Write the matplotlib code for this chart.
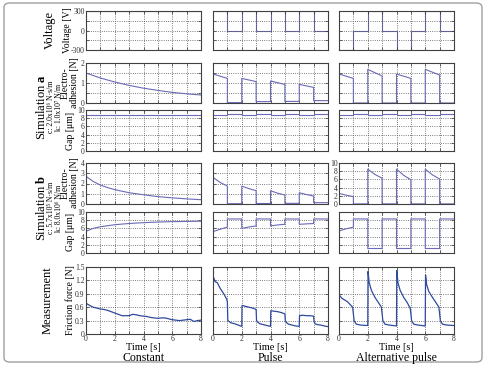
import numpy as np
import matplotlib.pyplot as plt
from matplotlib.patches import FancyBboxPatch

plt.rcParams['font.family'] = ['Liberation Serif', 'DejaVu Serif']
plt.rcParams['mathtext.fontset'] = 'custom'
plt.rcParams['mathtext.rm'] = 'Liberation Serif'
plt.rcParams['mathtext.it'] = 'Liberation Serif:italic'
plt.rcParams['mathtext.bf'] = 'Liberation Serif:bold'

# ---- data ----
columns = ['Constant', 'Pulse', 'Alternative pulse']

# voltage, one value per 1 s step
step_edges = [0, 1, 2, 3, 4, 5, 6, 7, 8]
volt_const = [300, 300, 300, 300, 300, 300, 300, 300]
volt_pulse = [300, 0, 300, 0, 300, 0, 300, 0]
volt_alt = [-300, 0, 300, 0, -300, 0, 300, 0]

# simulation a
ea_const_t = [0, 1, 2, 3, 4, 5, 6, 7, 8]
ea_const = [1.5, 1.25, 1.05, 0.88, 0.74, 0.63, 0.53, 0.46, 0.40]
pulse_t = [0, 1, 1, 2, 2, 3, 3, 4, 4, 5, 5, 6, 6, 7, 7, 8]
ea_pulse = [1.45, 1.23, 0.02, 0.02, 1.23, 1.07, 0.07, 0.07,
            1.10, 0.93, 0.08, 0.08, 0.93, 0.78, 0.12, 0.12]
ea_alt = [1.45, 1.23, 0.0, 0.0, 1.68, 1.35, 0.0, 0.0,
          1.45, 1.23, 0.0, 0.0, 1.68, 1.40, 0.0, 0.0]
gap_a_const_t = [0, 8]
gap_a_const = [8.9, 8.9]
gap_a_pulse = [8.85, 8.85, 8.95, 8.95, 8.85, 8.85, 8.95, 8.95,
               8.85, 8.85, 8.95, 8.95, 8.85, 8.85, 8.95, 8.95]
gap_a_alt = [8.85, 8.85, 8.95, 8.95, 8.7, 8.7, 8.95, 8.95,
             8.85, 8.85, 8.95, 8.95, 8.7, 8.7, 8.95, 8.95]

# simulation b
eb_const_t = [0, 0.5, 1, 1.5, 2, 3, 4, 5, 6, 7, 8]
eb_const = [2.7, 2.2, 1.85, 1.6, 1.4, 1.1, 0.9, 0.72, 0.6, 0.5, 0.42]
pulse_tf = [0, 0.5, 1, 1, 2, 2, 2.5, 3, 3, 4, 4, 4.5, 5, 5, 6, 6, 6.5, 7, 7, 8]
eb_pulse = [2.6, 2.1, 1.75, 0.03, 0.03, 1.75, 1.5, 1.3, 0.05, 0.05,
            1.3, 1.05, 0.88, 0.06, 0.06, 1.1, 0.92, 0.78, 0.13, 0.13]
eb_alt = [2.6, 2.15, 1.8, 0.02, 0.02, 8.5, 7.2, 6.3, 0.02, 0.02,
          8.5, 7.0, 5.9, 0.02, 0.02, 8.5, 7.1, 6.1, 0.02, 0.02]
gap_b_const_t = [0, 0.5, 1, 2, 3, 4, 5, 6, 7, 8]
gap_b_const = [5.3, 6.0, 6.4, 6.9, 7.2, 7.4, 7.55, 7.65, 7.7, 7.75]
gap_b_pulse = [5.2, 5.8, 6.3, 8.3, 8.3, 6.0, 6.35, 6.6, 8.3, 8.3,
               6.6, 6.85, 7.0, 8.3, 8.3, 7.0, 7.1, 7.2, 8.3, 8.3]
gap_b_alt = [5.4, 5.9, 6.3, 8.3, 8.3, 1.1, 1.1, 1.1, 8.3, 8.3,
             1.1, 1.1, 1.1, 8.3, 8.3, 1.1, 1.1, 1.1, 8.3, 8.3]

# measured friction force
fm_const_t = [0, 0.25, 0.5, 0.75, 1, 1.25, 1.5, 1.75, 2, 2.25, 2.5, 2.75, 3,
              3.25, 3.5, 3.75, 4, 4.25, 4.5, 4.75, 5, 5.25, 5.5, 5.75, 6,
              6.25, 6.5, 6.75, 7, 7.25, 7.5, 7.75, 8]
fm_const = [0.69, 0.64, 0.60, 0.58, 0.56, 0.55, 0.53, 0.50, 0.47, 0.44, 0.41,
            0.41, 0.41, 0.44, 0.43, 0.41, 0.40, 0.39, 0.37, 0.36, 0.35, 0.36,
            0.36, 0.34, 0.32, 0.31, 0.30, 0.31, 0.32, 0.33, 0.28, 0.30, 0.31]
fm_pulse_t = [0, 0.05, 0.15, 0.3, 0.5, 0.75, 0.95, 1.0, 1.03, 1.25, 1.5, 1.75,
              2.0, 2.02, 2.25, 2.5, 2.75, 3.0, 3.03, 3.1, 3.25, 3.5, 3.75,
              4.0, 4.02, 4.25, 4.5, 4.75, 5.0, 5.03, 5.1, 5.25, 5.5, 5.75,
              6.0, 6.02, 6.25, 6.5, 6.75, 7.0, 7.03, 7.1, 7.25, 7.5, 7.75, 8.0]
fm_pulse = [1.20, 1.26, 1.17, 1.15, 1.02, 0.90, 0.78, 0.72, 0.30, 0.25, 0.23,
            0.20, 0.17, 0.64, 0.62, 0.60, 0.58, 0.55, 0.30, 0.27, 0.23, 0.21,
            0.19, 0.17, 0.52, 0.51, 0.50, 0.48, 0.45, 0.30, 0.26, 0.22, 0.20,
            0.18, 0.17, 0.41, 0.42, 0.41, 0.41, 0.40, 0.28, 0.23, 0.21, 0.20,
            0.18, 0.165]
fm_alt_t = [0, 0.2, 0.4, 0.6, 0.8, 0.95, 1.0, 1.05, 1.2, 1.5, 2.0,
            2.02, 2.1, 2.25, 2.5, 2.75, 2.95, 3.0, 3.05, 3.2, 3.5, 4.0,
            4.02, 4.1, 4.25, 4.5, 4.75, 4.95, 5.0, 5.05, 5.2, 5.5, 6.0,
            6.02, 6.1, 6.25, 6.5, 6.75, 6.95, 7.0, 7.05, 7.2, 7.5, 8.0]
fm_alt = [0.88, 0.80, 0.76, 0.72, 0.65, 0.60, 0.45, 0.30, 0.22, 0.20, 0.19,
          1.40, 1.15, 0.98, 0.82, 0.70, 0.60, 0.45, 0.30, 0.22, 0.20, 0.18,
          1.42, 1.15, 0.98, 0.82, 0.70, 0.58, 0.45, 0.30, 0.22, 0.20, 0.18,
          1.32, 1.10, 0.95, 0.82, 0.70, 0.60, 0.45, 0.30, 0.22, 0.20, 0.19]

# ---- layout (pixels of a 486x365 figure) ----
W, H = 486, 365
col_x = [86, 213, 339]
col_w = 115
rows_px = [(11, 50), (63, 103), (110, 151), (163, 204), (212, 253), (267, 334)]

sim_color = '#6a6ab8'
meas_color = '#2f4a9e'

fig = plt.figure(figsize=(W / 100, H / 100), dpi=100)
fig.patches.append(FancyBboxPatch((4 / W, 3 / H), 478 / W, 359 / H,
                                  boxstyle='round,pad=0,rounding_size=0.012',
                                  transform=fig.transFigure, fill=False,
                                  edgecolor='#a0a0a0', lw=1.0))


def make_ax(r, c):
    top, bot = rows_px[r]
    ax = fig.add_axes([col_x[c] / W, 1 - bot / H, col_w / W, (bot - top) / H])
    ax.set_xlim(0, 8)
    ax.set_xticks(range(9))
    ax.set_xticklabels(['0', '', '2', '', '4', '', '6', '', '8'] if r == 5 else [])
    ax.grid(True, ls=':', color='#505050', lw=0.6)
    ax.tick_params(direction='in', length=2, width=0.5, labelsize=5.5, pad=1,
                   top=True, right=True, colors='#303030')
    for s in ax.spines.values():
        s.set_linewidth(0.8)
        s.set_color('#404040')
    return ax


def yaxis(ax, lim, ticks, labels, show):
    ax.set_ylim(*lim)
    ax.set_yticks(ticks)
    ax.set_yticklabels(labels if show else [])


volts = [volt_const, volt_pulse, volt_alt]
ea = [(ea_const_t, ea_const), (pulse_t, ea_pulse), (pulse_t, ea_alt)]
gap_a = [(gap_a_const_t, gap_a_const), (pulse_t, gap_a_pulse), (pulse_t, gap_a_alt)]
eb = [(eb_const_t, eb_const), (pulse_tf, eb_pulse), (pulse_tf, eb_alt)]
gap_b = [(gap_b_const_t, gap_b_const), (pulse_tf, gap_b_pulse), (pulse_tf, gap_b_alt)]
fm = [(fm_const_t, fm_const), (fm_pulse_t, fm_pulse), (fm_alt_t, fm_alt)]

for c in range(3):
    first = c == 0
    ax = make_ax(0, c)
    ax.stairs(volts[c], step_edges, color=sim_color, lw=0.8, baseline=None)
    yaxis(ax, (-300, 300), [-300, -150, 0, 150, 300], ['-300', '', '0', '', '300'], first)

    ax = make_ax(1, c)
    ax.plot(*ea[c], color=sim_color, lw=0.8)
    yaxis(ax, (0, 2), [0, 0.5, 1, 1.5, 2], ['0', '', '1', '', '2'], first)

    ax = make_ax(2, c)
    ax.plot(*gap_a[c], color=sim_color, lw=0.8)
    yaxis(ax, (0, 10), [0, 2, 4, 6, 8, 10], ['0', '2', '4', '6', '8', '10'], first)

    ax = make_ax(3, c)
    ax.plot(*eb[c], color=sim_color, lw=0.8)
    if c == 2:
        yaxis(ax, (0, 10), [0, 2, 4, 6, 8, 10], ['0', '2', '4', '6', '8', '10'], True)
    else:
        yaxis(ax, (0, 4), [0, 1, 2, 3, 4], ['0', '1', '2', '3', '4'], first)

    ax = make_ax(4, c)
    ax.plot(*gap_b[c], color=sim_color, lw=0.8)
    yaxis(ax, (0, 10), [0, 2, 4, 6, 8, 10], ['0', '2', '4', '6', '8', '10'], first)

    ax = make_ax(5, c)
    ax.plot(*fm[c], color=meas_color, lw=0.9)
    yaxis(ax, (0, 1.5), [0, 0.3, 0.6, 0.9, 1.2, 1.5],
          ['0', '0.3', '0.6', '0.9', '1.2', '1.5'], first)

    cx = (col_x[c] + col_w / 2) / W
    fig.text(cx, 1 - 348 / H, 'Time [s]', ha='center', va='center', fontsize=7.5)
    fig.text(cx, 1 - 358 / H, columns[c], ha='center', va='center', fontsize=8.5)


def side(x, y, s, fs):
    fig.text(x / W, 1 - y / H, s, rotation=90, ha='center', va='center',
             fontsize=fs, multialignment='center', linespacing=0.95)


side(50, 30, 'Voltage', 9)
side(67, 30, 'Voltage [V]', 7)
side(41, 107, r'Simulation $\mathbf{a}$', 9)
side(51, 107, 'c: 2.0x10⁶ N·s/m', 5.5)
side(58.5, 107, 'k: 1.0x10⁷ N/m', 5.5)
side(70, 83, 'Electro-\nadhesion [N]', 7)
side(70, 131, 'Gap [μm]', 7)
side(41, 208, r'Simulation $\mathbf{b}$', 9)
side(51, 208, 'c: 5.7x10⁵ N·s/m', 5.5)
side(58.5, 208, 'k: 8.0x10⁶ N/m', 5.5)
side(70, 183, 'Electro-\nadhesion [N]', 7)
side(70, 232, 'Gap [μm]', 7)
side(48, 300, 'Measurement', 9)
side(70, 300, 'Friction force [N]', 7)

fig.savefig('out.png', dpi=100)
